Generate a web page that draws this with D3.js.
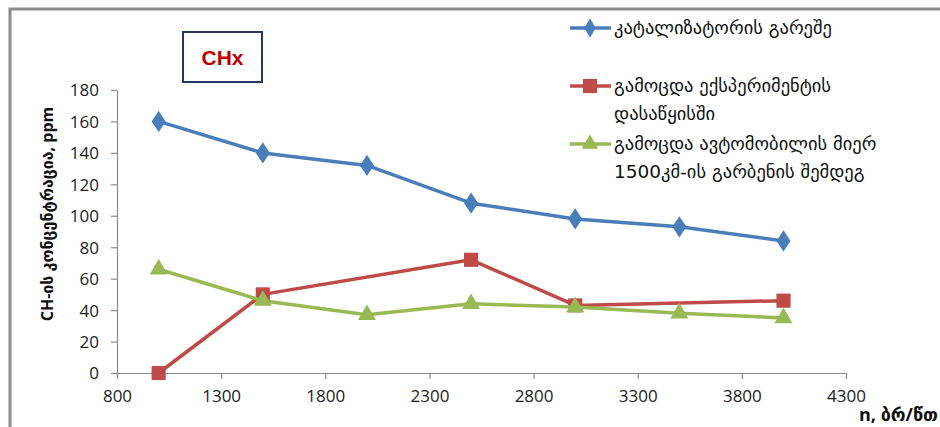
<!DOCTYPE html>
<html>
<head>
<meta charset="utf-8">
<script src="https://cdn.jsdelivr.net/npm/d3@7"></script>
<style>
  html, body { margin: 0; padding: 0; background: #fff; }
  svg { display: block; }
  text { font-family: "Open Sans", "DejaVu Sans", sans-serif; }
</style>
</head>
<body>
<svg id="chart" width="940" height="427"></svg>
<script>
// Engine speed (rpm) and CH concentration (ppm)
const rpm = [1000, 1500, 2000, 2500, 3000, 3500, 4000];
const noCatalyst = [160, 140, 132, 108, 98, 93, 84];
const testStartRpm = [1000, 1500, 2500, 3000, 4000];
const testStart = [0, 50, 72, 43, 46];
const after1500km = [66, 46, 37, 44, 42, 38, 35];

const xTicks = [800, 1300, 1800, 2300, 2800, 3300, 3800, 4300];
const yTicks = [0, 20, 40, 60, 80, 100, 120, 140, 160, 180];

const seriesNames = [
  ["კატალიზატორის გარეშე"],
  ["გამოცდა ექსპერიმენტის", "დასაწყისში"],
  ["გამოცდა ავტომობილის მიერ", "1500კმ-ის გარბენის შემდეგ"]
];
const seriesColors = ["#4A7EBB", "#BE4B48", "#98B954"];
const yTitle = "CH-ის კონცენტრაცია, ppm";
const xTitle = "n, ბრ/წთ";
const badge = "CHx";

const svg = d3.select("#chart");

// outer frame (top and left edges)
svg.append("path")
  .attr("d", "M10,427 V9 H940")
  .attr("fill", "none").attr("stroke", "#8c8c8c").attr("stroke-width", 3);

const x = d3.scaleLinear().domain([800, 4300]).range([117, 846]);
const y = d3.scaleLinear().domain([0, 180]).range([373, 90]);

const axisColor = "#8a8a8a";
const tickText = "#222";

// y axis
const gy = svg.append("g").attr("transform", `translate(${x(800)},0)`)
  .call(d3.axisLeft(y).tickValues(yTicks).tickSize(6).tickSizeOuter(0).tickPadding(12));
// x axis
const gx = svg.append("g").attr("transform", `translate(0,${y(0)})`)
  .call(d3.axisBottom(x).tickValues(xTicks).tickFormat(d3.format("d"))
    .tickSize(6).tickSizeOuter(0).tickPadding(11));

[gy, gx].forEach(g => {
  g.select(".domain").attr("stroke", axisColor).attr("stroke-width", 1.2);
  g.selectAll(".tick line").attr("stroke", axisColor).attr("stroke-width", 1.2);
  g.selectAll(".tick text").attr("fill", tickText)
    .style("font-size", "17px").style("font-family", "'Open Sans', sans-serif");
});
gy.selectAll(".tick text").attr("dy", "0.35em");

// axis titles
svg.append("text")
  .attr("transform", `translate(53,214) rotate(-90)`)
  .attr("text-anchor", "middle")
  .style("font-size", "16px").style("font-weight", "bold").attr("fill", "#111")
  .text(yTitle);

svg.append("text")
  .attr("x", 859).attr("y", 421)
  .style("font-size", "18px").style("font-weight", "bold").attr("fill", "#111")
  .text(xTitle);

// badge
svg.append("rect")
  .attr("x", 183).attr("y", 32).attr("width", 79).attr("height", 50)
  .attr("fill", "#fff").attr("stroke", "#1F3864").attr("stroke-width", 2);
svg.append("text")
  .attr("x", 222.5).attr("y", 65).attr("text-anchor", "middle")
  .style("font-size", "21px").style("font-weight", "bold").attr("fill", "#C00000")
  .style("font-family", "'Liberation Sans', Arial, sans-serif")
  .text(badge);

const line = d3.line().x(d => x(d[0])).y(d => y(d[1]));

const series = [
  { xs: rpm, ys: noCatalyst, symbol: d3.symbolDiamond, size: 130 },
  { xs: testStartRpm, ys: testStart, symbol: d3.symbolSquare, size: 200 },
  { xs: rpm, ys: after1500km, symbol: d3.symbolTriangle, size: 140 }
];

series.forEach((s, i) => {
  const pts = s.xs.map((v, j) => [v, s.ys[j]]);
  const g = svg.append("g");
  g.append("path").datum(pts)
    .attr("d", line).attr("fill", "none")
    .attr("stroke", seriesColors[i]).attr("stroke-width", 3.5)
    .attr("stroke-linejoin", "round");
  const sym = d3.symbol().type(s.symbol).size(s.size);
  g.selectAll("path.m").data(pts).join("path")
    .attr("class", "m")
    .attr("d", sym)
    .attr("transform", d => `translate(${x(d[0])},${y(d[1])})${i === 0 ? " scale(1.15,1)" : ""}`)
    .attr("fill", seriesColors[i]);
});

// legend
const legendRows = [28, 86, 144];
seriesNames.forEach((lines, i) => {
  const ly = legendRows[i];
  const g = svg.append("g");
  g.append("line").attr("x1", 570).attr("x2", 611).attr("y1", ly).attr("y2", ly)
    .attr("stroke", seriesColors[i]).attr("stroke-width", 3.5);
  const sym = d3.symbol().type(series[i].symbol).size(i === 1 ? 200 : (i === 0 ? 110 : 120));
  g.append("path").attr("d", sym).attr("transform", `translate(590,${ly})`)
    .attr("fill", seriesColors[i]);
  lines.forEach((t, k) => {
    g.append("text").attr("x", 614).attr("y", ly + k * 28).attr("dy", "0.35em")
      .style("font-size", "18.5px").attr("fill", "#111")
      .style("font-family", "'DejaVu Sans', sans-serif")
      .text(t);
  });
});
</script>
</body>
</html>
